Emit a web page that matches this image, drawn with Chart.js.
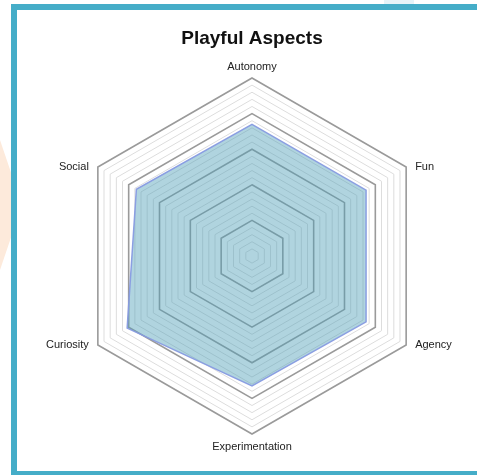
<!DOCTYPE html>
<html lang="en">
<head>
    <meta charset="UTF-8">
    <title>Playful Aspects</title>
    <style>
        body {
            margin: 0;
            padding: 0;
            width: 477px;
            height: 475px;
            overflow: hidden;
            background-color: #fff;
            position: relative;
        }

        .deco-left {
            position: absolute;
            left: 0;
            top: 140px;
            width: 11px;
            height: 130px;
            background-color: #fdeadb;
            clip-path: polygon(0 0, 100% 25%, 100% 75%, 0 100%);
        }

        .deco-top {
            position: absolute;
            left: 384px;
            top: 0;
            width: 30px;
            height: 4px;
            background-color: #e6f3f8;
        }

        .frame {
            position: absolute;
            left: 11px;
            top: 4px;
            width: 480px;
            height: 461px;
            border-top: 6px solid #45adc8;
            border-left: 6px solid #45adc8;
            border-bottom: 4px solid #45adc8;
            background-color: #fff;
        }

        .chart-box {
            position: absolute;
            left: 17px;
            top: 10px;
            width: 470px;
            height: 461px;
        }
    </style>
</head>
<body>
    <div class="deco-left"></div>
    <div class="deco-top"></div>
    <div class="frame"></div>
    <div class="chart-box">
        <canvas id="playfulChart"></canvas>
    </div>

    <script src="https://cdn.jsdelivr.net/npm/chart.js"></script>
    <script>
        // aspects, clockwise from the top
        const aspects = ['Autonomy', 'Fun', 'Agency', 'Experimentation', 'Curiosity', 'Social'];
        const scores = [3.7, 3.7, 3.7, 3.65, 4.05, 3.75];
        const scaleMax = 5;
        const scaleStep = 0.2;

        const labelFont = '11px Arial, "Liberation Sans", sans-serif';

        // labels sit level with the corners on the sides, not above/below them
        const sideLabels = {
            id: 'sideLabels',
            afterDraw(chart) {
                const scale = chart.scales.r;
                const c = chart.ctx;
                c.save();
                c.font = labelFont;
                c.fillStyle = '#222';
                chart.data.labels.forEach((label, i) => {
                    const p = scale.getPointPosition(i, scale.drawingArea);
                    const dx = p.x - scale.xCenter;
                    const dy = p.y - scale.yCenter;
                    if (Math.abs(dx) < 1) {
                        c.textAlign = 'center';
                        c.textBaseline = dy < 0 ? 'bottom' : 'top';
                        c.fillText(label, p.x, dy < 0 ? p.y - 6 : p.y + 7);
                    } else {
                        c.textAlign = dx < 0 ? 'right' : 'left';
                        c.textBaseline = 'middle';
                        c.fillText(label, dx < 0 ? p.x - 9 : p.x + 9, p.y);
                    }
                });
                c.restore();
            }
        };

        const ctx = document.getElementById('playfulChart').getContext('2d');
        new Chart(ctx, {
            type: 'radar',
            data: {
                labels: aspects,
                datasets: [{
                    data: scores,
                    backgroundColor: 'rgba(80, 160, 185, 0.45)',
                    borderColor: 'rgba(135, 155, 225, 0.95)',
                    borderWidth: 1.5,
                    pointRadius: 0,
                }],
            },
            options: {
                responsive: true,
                maintainAspectRatio: false,
                animation: false,
                layout: {
                    padding: { top: 0, bottom: 36, left: 0, right: 0 }
                },
                plugins: {
                    legend: { display: false },
                    tooltip: { enabled: false },
                    title: {
                        display: true,
                        text: 'Playful Aspects',
                        color: '#111',
                        font: { family: 'Arial, "Liberation Sans", sans-serif', size: 19, weight: 'bold' },
                        padding: { top: 17, bottom: 29 }
                    }
                },
                scales: {
                    r: {
                        min: 0,
                        max: scaleMax,
                        ticks: { display: false, stepSize: scaleStep },
                        angleLines: { display: false },
                        grid: {
                            color: (c) => (c.index % 5 === 0 ? '#9a9a9a' : '#dddddd'),
                            lineWidth: (c) => (c.index % 5 === 0 ? 1.6 : 1),
                        },
                        pointLabels: { display: false }
                    }
                }
            },
            plugins: [sideLabels]
        });
    </script>
</body>
</html>
